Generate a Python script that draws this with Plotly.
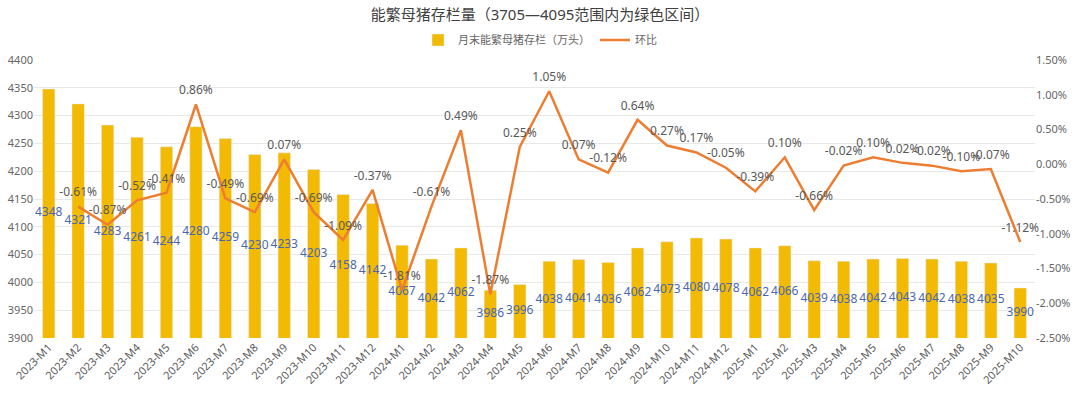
import plotly.graph_objects as go

months = ["2023-M1","2023-M2","2023-M3","2023-M4","2023-M5","2023-M6","2023-M7","2023-M8","2023-M9","2023-M10","2023-M11","2023-M12",
          "2024-M1","2024-M2","2024-M3","2024-M4","2024-M5","2024-M6","2024-M7","2024-M8","2024-M9","2024-M10","2024-M11","2024-M12",
          "2025-M1","2025-M2","2025-M3","2025-M4","2025-M5","2025-M6","2025-M7","2025-M8","2025-M9","2025-M10"]
stock = [4348,4321,4283,4261,4244,4280,4259,4230,4233,4203,4158,4142,
         4067,4042,4062,3986,3996,4038,4041,4036,4062,4073,4080,4078,
         4062,4066,4039,4038,4042,4043,4042,4038,4035,3990]
mom = [None,-0.61,-0.87,-0.52,-0.41,0.86,-0.49,-0.69,0.07,-0.69,-1.09,-0.37,
       -1.81,-0.61,0.49,-1.87,0.25,1.05,0.07,-0.12,0.64,0.27,0.17,-0.05,
       -0.39,0.10,-0.66,-0.02,0.10,0.02,-0.02,-0.10,-0.07,-1.12]
left_ticks = list(range(3900, 4401, 50))
right_ticks = [-2.5,-2.0,-1.5,-1.0,-0.5,0.0,0.5,1.0,1.5]
y_min, y_max = 3900, 4400

FONT = "Noto Sans, Noto Sans CJK SC, sans-serif"

fig = go.Figure()
fig.add_trace(go.Bar(
    x=months, y=stock, name="月末能繁母猪存栏（万头）",
    marker=dict(color="#F2BA02"),
    width=0.42,
))
# bar value labels, placed at the middle of each visible bar
fig.add_trace(go.Scatter(
    x=months, y=[(v + y_min) / 2 for v in stock], mode="text",
    text=[str(v) for v in stock], textposition="middle center",
    textfont=dict(color="#4A67AD", size=12, family=FONT),
    showlegend=False, hoverinfo="skip", cliponaxis=False,
))
fig.add_trace(go.Scatter(
    x=months, y=mom, name="环比", yaxis="y2", mode="lines+markers+text",
    line=dict(color="#ED7D31", width=2.5),
    marker=dict(size=10, color="rgba(0,0,0,0)"),
    text=["" if v is None else f"{v:.2f}%" for v in mom],
    textposition="top center",
    textfont=dict(color="#595959", size=12, family=FONT),
    cliponaxis=False,
))

fig.update_layout(
    width=1080, height=395,
    margin=dict(l=34, r=45, t=60, b=57, autoexpand=False),
    paper_bgcolor="white", plot_bgcolor="white",
    font=dict(family=FONT, color="#666666", size=11),
    title=dict(text="能繁母猪存栏量（3705—4095范围内为绿色区间）", x=0.5, xanchor="center",
               xref="container", y=1-15/395, yanchor="middle", yref="container",
               font=dict(size=15, color="#404040", family=FONT)),
    legend=dict(orientation="h", x=0.5, xanchor="center", xref="container",
                y=1-40/395, yanchor="middle", yref="container",
                font=dict(size=11, color="#666666", family=FONT), itemwidth=30),
    showlegend=True,
    xaxis=dict(type="category", range=[-0.5, len(months) - 0.5], tickangle=-45,
               tickfont=dict(size=11, color="#595959"),
               showgrid=False, showline=False, ticks="", automargin=False),
    yaxis=dict(range=[y_min, y_max], tickvals=left_ticks, showgrid=True, gridcolor="#E8E8E8",
               zeroline=False, tickfont=dict(size=11, color="#666666"), automargin=False),
    yaxis2=dict(range=[-2.5, 1.5], tickvals=right_ticks, ticktext=[f"{v:.2f}%" for v in right_ticks],
                overlaying="y", side="right", showgrid=False, zeroline=False,
                tickfont=dict(size=11, color="#666666"), automargin=False),
)

fig.write_html("out.html", config={"displayModeBar": False},
               post_script="document.body.style.margin='0';document.body.style.padding='0';")
